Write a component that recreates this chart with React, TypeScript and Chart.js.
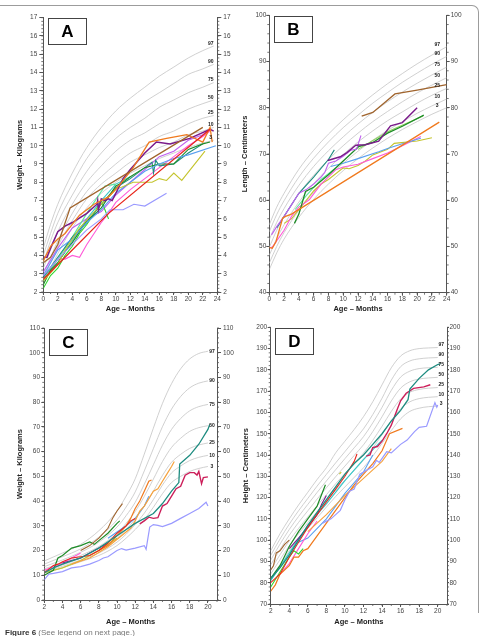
import React, { useEffect, useRef } from "react";
import { Chart, registerables } from "chart.js";

Chart.register(...registerables);

const FONT = "'Liberation Sans', Arial, Helvetica, sans-serif";
const PCT_NAMES = ["97", "90", "75", "50", "25", "10", "3"];

// ---------------- Panel A : weight, 0-24 months ----------------
const A_X_TICKS = [0, 2, 4, 6, 8, 10, 12, 14, 16, 18, 20, 22, 24];
const A_Y_TICKS = [2, 3, 4, 5, 6, 7, 8, 9, 10, 11, 12, 13, 14, 15, 16, 17];
const A_AGES = [0, 1, 2, 4, 6, 8, 10, 12, 14, 16, 18, 20, 22, 23.5];
const A_P97 = [4.4, 5.7, 6.8, 8.5, 9.9, 11.0, 11.9, 12.6, 13.2, 13.8, 14.3, 14.8, 15.2, 15.45];
const A_P90 = [4.0, 5.2, 6.3, 7.9, 9.3, 10.3, 11.1, 11.8, 12.4, 12.9, 13.4, 13.9, 14.2, 14.45];
const A_P75 = [3.6, 4.8, 5.8, 7.3, 8.6, 9.6, 10.4, 11.0, 11.5, 12.1, 12.5, 12.9, 13.2, 13.45];
const A_P50 = [3.3, 4.3, 5.3, 6.8, 8.0, 8.9, 9.7, 10.3, 10.7, 11.2, 11.6, 12.0, 12.3, 12.5];
const A_P25 = [2.9, 3.9, 4.8, 6.3, 7.5, 8.3, 9.0, 9.6, 10.0, 10.5, 10.8, 11.2, 11.5, 11.65];
const A_P10 = [2.7, 3.6, 4.5, 5.9, 7.1, 7.9, 8.5, 9.1, 9.5, 9.9, 10.2, 10.6, 10.8, 11.0];
const A_P3 = [2.4, 3.3, 4.1, 5.5, 6.6, 7.4, 8.0, 8.5, 8.9, 9.3, 9.6, 9.9, 10.15, 10.3];

const A_RED = [[0, 2.7], [9, 6.3], [23, 10.9]];
const A_BROWN = [[0, 3.6], [1, 3.9], [2, 4.6], [3.7, 6.6], [22, 11.0]];
const A_ORANGE = [[0, 3.7], [1, 4.5], [2, 4.9], [3, 5.2], [5, 6.2], [7, 6.8], [9, 7.2], [10.6, 7.9], [12.4, 8.8], [14.6, 10.2], [17, 10.4], [19.8, 10.6], [22, 10.2], [23, 11.0], [23.3, 10.2]];
const A_PURPLE = [[0, 3.9], [0.5, 3.9], [1, 4.4], [2, 5.3], [3, 5.6], [4, 5.8], [6, 6.3], [7.4, 6.8], [7.5, 7.0], [7.6, 6.5], [8, 7.1], [8.5, 7.0], [9, 7.1], [9.5, 7.0], [10, 7.4], [11, 8.2], [12, 8.7], [14, 9.6], [15.6, 10.2], [17.5, 10.1], [20.2, 10.4], [23, 10.9], [23.5, 10.8]];
const A_LAVENDER = [[0, 2.9], [2, 3.8], [4, 4.6], [6, 5.4], [8, 6.0], [9.2, 6.5], [11, 6.5], [12.5, 6.8], [14, 6.7], [17, 7.4]];
const A_OLIVE = [[0, 2.6], [2, 3.5], [3, 4.3], [5, 5.5], [8, 6.8], [10, 7.6], [12.4, 8.0], [14, 8.0], [15, 8.0], [16, 8.2], [17, 8.1], [18, 8.5], [19.1, 8.1], [22.3, 9.7]];
const A_BLUE = [[0, 2.9], [2, 4.3], [4, 4.9], [6, 5.8], [8, 6.5], [10, 7.4], [12, 8.0], [14, 8.6], [16, 9.0], [18, 9.3], [20, 9.5], [23.8, 10.0]];
const A_GREEN = [[0, 2.4], [1, 3.2], [2, 3.6], [3, 4.2], [4, 4.7], [5, 5.3], [6, 5.9], [7, 6.2], [8, 6.6], [9, 7.2], [10, 7.8], [11, 8.0], [12, 8.3], [14, 8.8], [16, 9.0], [18, 9.0], [20, 9.8], [22, 10.1], [23, 10.2]];
const A_TEAL = [[0, 2.8], [2, 3.9], [4, 5.0], [6, 5.8], [8, 6.8], [10, 7.7], [12, 8.2], [14, 8.8], [15, 9.1], [15.2, 8.5], [15.5, 9.2], [16, 8.9], [18, 9.0], [20, 9.6], [22, 10.1]];
const A_LIME = [[0, 2.2], [1, 2.9], [2, 3.3], [3, 4.0], [4, 4.5], [5, 5.2], [6, 5.7], [7, 6.3], [8, 7.0], [8.5, 6.5], [9, 6.0]];
const A_MINT = [[0, 2.7], [2, 3.8], [4, 5.0], [6, 6.3], [7.5, 7.2], [8.5, 7.8], [10, 7.9]];
const A_PINK = [[0, 2.9], [1, 3.2], [2, 3.8], [3, 3.8], [4, 4.0], [5, 3.9], [6, 4.6], [7, 5.2], [8, 5.8], [9, 6.3], [10, 6.9], [12, 7.6], [14, 8.2], [16, 8.8], [18, 9.4], [20, 10.0], [22, 10.5], [23, 10.8]];
const A_VIOLET = [[0, 3.1], [2, 4.4], [4, 5.5], [6, 6.0], [8, 6.4], [10, 7.3], [12, 8.0], [14, 8.7], [16, 9.4], [18, 9.7], [20, 10.3], [22, 10.6], [23, 10.9]];
const A_CYAN = [[0, 2.6], [2, 3.6], [4, 4.8], [6, 6.0], [8, 7.0], [10, 7.9], [12, 8.3]];

// ---------------- Panel B : length, 0-24 months ----------------
const B_X_TICKS = [0, 2, 4, 6, 8, 10, 12, 14, 16, 18, 20, 22, 24];
const B_Y_TICKS = [40, 50, 60, 70, 80, 90, 100];
const B_AGES = [0, 1, 2, 4, 6, 8, 10, 12, 14, 16, 18, 20, 22, 24];
const B_P97 = [54.7, 58.5, 61.5, 66.7, 70.8, 74.3, 77.4, 80.2, 82.8, 85.2, 87.4, 89.5, 91.4, 93.2];
const B_P90 = [53.2, 56.9, 59.9, 65.0, 69.1, 72.6, 75.7, 78.4, 81.0, 83.3, 85.5, 87.5, 89.4, 91.1];
const B_P75 = [51.5, 55.2, 58.2, 63.2, 67.3, 70.7, 73.7, 76.5, 79.0, 81.3, 83.4, 85.3, 87.1, 88.8];
const B_P50 = [49.8, 53.5, 56.5, 61.4, 65.4, 68.8, 71.8, 74.5, 77.0, 79.2, 81.3, 83.2, 84.9, 86.5];
const B_P25 = [48.1, 51.7, 54.7, 59.6, 63.6, 66.9, 69.9, 72.6, 75.0, 77.2, 79.1, 81.0, 82.7, 84.2];
const B_P10 = [46.4, 50.0, 53.0, 57.8, 61.7, 65.1, 68.0, 70.6, 73.0, 75.1, 77.0, 78.8, 80.4, 81.9];
const B_P3 = [45.0, 48.6, 51.6, 56.3, 60.2, 63.5, 66.4, 69.0, 71.3, 73.4, 75.3, 77.0, 78.6, 80.0];

const B_ORANGE = [[0, 49.8], [0.4, 49.6], [0.9, 51.0], [1.8, 56.1], [2.2, 56.5], [3, 57.0], [23, 76.9]];
const B_BROWN = [[12.5, 78.2], [14, 79.0], [15.5, 81.0], [17, 83.0], [20, 83.8], [24, 85.0]];
const B_PURPLE = [[7.9, 68.6], [9.6, 69.4], [10.5, 70.3], [11.7, 71.9], [13, 72.0], [14.8, 72.8], [16.4, 76.1], [18, 76.8], [20, 80.0]];
const B_VIOLET = [[0.3, 52.5], [1, 54.3], [2, 56.5], [3, 59.0], [4, 61.5], [5, 62.3], [6, 63.5], [7, 65.0], [7.5, 66.0], [8, 68.0], [9, 68.5], [10, 69.5], [11, 70.8], [11.8, 71.0], [12.4, 74.0]];
const B_GREEN = [[3.4, 55.0], [4, 57.0], [4.9, 61.9], [6, 62.8], [8, 65.5], [10, 68.5], [12.1, 71.6], [14, 72.5], [16, 74.5], [18, 76.0], [20.9, 78.4]];
const B_TEAL = [[1, 54.0], [2, 56.5], [4, 61.5], [6, 65.0], [8, 68.8], [8.8, 70.9]];
const B_LIGHTGREEN = [[12, 71.0], [16, 74.8], [20.8, 78.2]];
const B_BLUE = [[8.3, 67.3], [10, 68.0], [12, 69.0], [14.8, 70.5], [16, 71.2], [18, 72.2], [20.5, 73.4]];
const B_PINK = [[0.2, 49.6], [0.6, 50.3], [2, 53.5], [3, 56.5], [4, 58.5], [5.4, 60.1], [7, 63.5], [9, 66.6], [10, 67.2], [12, 67.8], [14, 69.0], [16, 70.2], [18, 71.8], [20.5, 73.8]];
const B_OLIVE = [[2, 55.0], [3, 56.0], [4, 58.0], [5, 60.0], [6, 62.0], [7, 63.5], [8, 64.5], [10, 67.0], [10.8, 66.8], [12, 67.5], [13, 68.5], [14, 69.8], [16, 71.0], [16.9, 72.3], [20, 72.8], [22, 73.5]];
const B_MINT = [[3.5, 58.0], [5, 61.0], [7, 64.5], [9, 67.0]];

// ---------------- Panel C : weight, 2-20 ----------------
const C_X_TICKS = [2, 4, 6, 8, 10, 12, 14, 16, 18, 20];
const C_Y_TICKS = [0, 10, 20, 30, 40, 50, 60, 70, 80, 90, 100, 110];
const C_AGES = [2, 4, 6, 8, 10, 11, 12, 13, 14, 15, 16, 17, 18, 19, 20];
const C_P97 = [15.8, 19.0, 22.5, 28.0, 36.0, 42.0, 49.0, 59.0, 69.5, 79.5, 87.5, 93.5, 97.5, 99.7, 100.6];
const C_P90 = [14.5, 17.5, 20.7, 25.4, 32.4, 37.6, 43.7, 52.2, 61.2, 70.1, 77.2, 82.3, 85.8, 87.7, 88.6];
const C_P75 = [13.5, 16.2, 19.3, 23.4, 29.5, 34.1, 39.5, 46.8, 54.7, 62.6, 69.0, 73.4, 76.5, 78.2, 79.1];
const C_P50 = [12.6, 15.1, 18.0, 21.6, 27.0, 31.0, 35.8, 41.9, 48.9, 56.0, 61.7, 65.4, 68.2, 69.7, 70.5];
const C_P25 = [11.8, 14.2, 16.9, 20.0, 24.9, 28.5, 32.7, 37.9, 44.0, 50.4, 55.7, 58.9, 61.3, 62.7, 63.5];
const C_P10 = [11.3, 13.6, 16.2, 19.0, 23.4, 26.6, 30.5, 35.1, 40.6, 46.5, 51.4, 54.2, 56.4, 57.7, 58.5];
const C_P3 = [10.8, 13.0, 15.5, 18.0, 22.0, 25.0, 28.5, 32.5, 37.5, 43.0, 47.5, 50.0, 52.0, 53.2, 54.0];

const C_LAVENDER = [[2, 8.2], [2.5, 10.5], [3, 10.8], [4, 11.5], [5, 13.0], [6, 13.5], [7, 14.5], [8, 16.0], [8.5, 17.0], [9, 17.5], [10, 20.0], [10.5, 20.8], [11, 20.2], [12, 21.0], [13, 22.0], [13.2, 20.5], [13.4, 25.0], [13.6, 29.5], [14, 30.5], [14.5, 30.2], [15, 29.7], [16, 31.0], [17, 33.0], [18, 35.0], [19, 37.0], [19.8, 39.5], [20, 38.0]];
const C_TEAL = [[2, 11.0], [3, 13.0], [4, 14.5], [6, 17.0], [8, 21.0], [10, 26.0], [12, 31.0], [14, 35.0], [15, 39.0], [16, 44.0], [16.8, 47.5], [16.9, 55.0], [18, 58.5], [19, 63.0], [20, 69.0], [20.2, 71.0]];
const C_CRIMSON = [[12.5, 30.8], [13, 32.0], [13.5, 33.5], [14, 33.0], [14.5, 33.3], [15, 38.0], [15.5, 39.0], [16, 42.0], [16.5, 45.0], [17, 46.0], [17.5, 50.5], [18, 51.5], [18.5, 51.5], [18.8, 50.5], [19, 52.0], [19.3, 47.0], [19.5, 49.5], [20, 49.8]];
const C_RED = [[2, 11.0], [2.5, 12.5], [3, 14.0], [3.5, 14.5], [4, 15.5], [5, 17.0], [6, 17.5], [7, 18.0], [8, 20.0], [9, 23.0], [10, 27.0], [11, 30.0], [11.5, 32.0], [12, 33.0]];
const C_ORANGE = [[8, 20.0], [9, 22.0], [10, 26.0], [11, 30.0], [11.5, 33.0], [12, 37.0], [12.5, 40.0], [13, 44.0], [13.5, 48.0], [13.8, 48.5]];
const C_LIGHTORANGE = [[5, 14.5], [7, 17.0], [9, 21.5], [11.5, 29.0], [12, 32.0], [12.5, 36.0], [13, 38.0], [13.5, 41.0], [14, 44.0], [14.5, 45.0], [15, 48.0], [15.5, 51.0], [16, 54.0], [16.3, 56.0]];
const C_BROWN = [[6, 20.0], [7, 22.0], [8, 25.0], [9, 29.0], [9.5, 33.0], [10, 36.0], [10.6, 39.0]];
const C_GREEN = [[2, 10.0], [3, 12.0], [3.5, 17.0], [4, 18.0], [5, 21.0], [6, 22.0], [7, 23.5], [7.5, 22.5], [8, 24.0], [9, 27.0], [10, 31.0], [10.3, 32.0]];
const C_BLUE = [[9, 25.0], [11, 30.0], [12, 33.0], [13, 38.0], [13.5, 42.0]];
const C_PURPLE = [[4, 15.0], [5, 16.0], [6, 17.0], [7, 19.0], [8, 21.0], [9, 23.0]];
const C_OLIVE = [[2, 11.0], [4, 13.0], [6, 16.0], [8, 20.0], [10, 25.0]];
const C_PINK = [[2, 12.0], [4, 15.0], [5, 17.0], [6, 19.0]];

// ---------------- Panel D : height, 2-20 ----------------
const D_X_TICKS = [2, 4, 6, 8, 10, 12, 14, 16, 18, 20];
const D_Y_TICKS = [70, 80, 90, 100, 110, 120, 130, 140, 150, 160, 170, 180, 190, 200];
const D_AGES = [2, 3, 4, 5, 6, 7, 8, 9, 10, 11, 12, 13, 14, 15, 16, 17, 18, 19, 20];
const D_P97 = [95, 103, 110, 116.5, 122.5, 128.5, 134, 141, 146.5, 152, 158, 165, 173, 181, 186.5, 189, 190, 190.3, 190.5];
const D_P90 = [92.8, 100.5, 107.5, 113.8, 119.6, 125.4, 130.9, 136.3, 141.6, 146.9, 152.3, 159.0, 166.7, 175.2, 181.5, 184.2, 185.2, 185.6, 185.8];
const D_P75 = [90.6, 98.1, 105.0, 111.1, 116.8, 122.4, 127.8, 133.1, 138.3, 143.4, 148.6, 155.1, 162.4, 170.4, 176.6, 179.4, 180.6, 181.0, 181.2];
const D_P50 = [88.4, 95.6, 102.3, 108.3, 113.8, 119.3, 124.6, 129.8, 134.8, 139.8, 144.8, 151.0, 158.0, 165.4, 171.4, 174.4, 175.7, 176.2, 176.5];
const D_P25 = [86.1, 93.1, 99.7, 105.5, 110.9, 116.2, 121.3, 126.5, 131.3, 136.1, 140.9, 146.9, 153.5, 160.5, 166.3, 169.5, 170.8, 171.4, 171.7];
const D_P10 = [84.1, 90.8, 97.4, 103.0, 108.2, 113.4, 118.4, 123.5, 128.2, 132.8, 137.5, 143.2, 149.6, 156.0, 161.7, 165.0, 166.5, 167.1, 167.4];
const D_P3 = [82, 88.5, 95, 100.5, 105.5, 110.5, 115.5, 120.5, 125, 129.5, 134, 139.5, 145.5, 151.5, 157, 160.5, 162, 162.7, 163];

const D_LAVENDER = [[7.6, 108], [8.5, 110], [9.5, 114], [10, 119], [10.5, 123], [11, 124], [11.6, 131], [12, 132], [13, 134.5], [13.4, 137.5], [13.7, 136.5], [14.1, 139], [14.5, 141.6], [15, 141], [16, 145], [16.7, 147], [17.5, 151], [18, 153], [18.8, 153.5], [19.7, 164.6], [19.9, 162.5], [20, 163.5]];
const D_TEAL = [[2, 82], [3, 87], [4, 93], [5, 100], [6, 107], [7, 113], [8, 119], [9, 125], [10, 131], [11, 136], [12, 140], [13, 145], [14, 150], [15, 156], [16, 161], [16.8, 166], [17, 171], [18, 176], [19, 180], [20, 182.5], [20.3, 183]];
const D_CRIMSON = [[12.3, 139.5], [12.7, 140], [13, 143.5], [13.5, 144], [14, 146.5], [14.5, 150], [15, 154], [15.6, 161], [16, 165.5], [16.6, 169], [17.4, 171.3], [18.5, 172], [19.2, 173]];
const D_RED = [[2, 80], [3, 84], [4, 92], [5, 99], [6, 106], [7, 112], [8, 118], [9, 124], [10, 130], [11, 137], [11.3, 140.5]];
const D_ORANGE = [[2, 76], [2.5, 79], [3, 84], [4, 88], [4.5, 92], [5, 92], [5.5, 95], [6, 96], [7, 102], [8, 108], [9, 114], [10, 120], [11, 126], [12, 131], [13, 136], [14, 142], [14.8, 150], [16.2, 152.5]];
const D_LIME = [[2, 78], [3, 85], [4, 92], [4.5, 95], [5, 93.5], [5.5, 96]];
const D_GREEN = [[2, 82], [3, 88], [4, 97], [5, 104], [6, 110], [7, 116], [7.9, 126]];
const D_OLIVE = [[9.4, 131], [9.6, 132]];
const D_BROWN = [[2, 86], [2.3, 88], [2.6, 94], [3, 95], [3.5, 98], [4, 100]];
const D_PURPLE = [[4, 96], [5, 101], [6, 106], [7, 112], [7.5, 117], [8, 121]];
const D_DARKCYAN = [[2, 81], [4, 94], [6, 107], [8, 117], [10, 128], [12, 138], [14, 147]];
const D_LIGHTORANGE = [[6, 104], [8, 112], [10, 121], [12, 129], [14, 137], [15, 143]];
const D_PINK = [[3, 84], [4, 89], [5, 96], [6, 103], [7, 109]];
const D_BLUE = [[5, 99], [6, 101], [8, 110], [10, 122], [12, 132], [13, 140]];

// ---------------- colours ----------------
const COL = {
  red: "#e8261c",
  brown: "#a0642d",
  orange: "#f07a1e",
  lightOrange: "#f6a23c",
  purple: "#7a1a8a",
  lavender: "#9a9aff",
  olive: "#c4c42e",
  blue: "#5aa0f0",
  green: "#1e8c28",
  teal: "#1e8c80",
  lime: "#30d830",
  mint: "#5ee6a0",
  pink: "#ff5ad8",
  violet: "#c060f0",
  cyan: "#38c8c8",
  crimson: "#cc1f5a",
  lightGreen: "#8cd25a",
};

type Series = { data: number[][]; color: string; width?: number };
type Spec = {
  letter: string; left: number; top: number; w: number; h: number;
  padTop: number; yW: number; y2W: number; xH: number;
  xMin: number; xMax: number; yMin: number; yMax: number;
  xTicks: number[]; yTicks: number[]; xMinor: number; yMinor: number;
  yTitle: string; xTitlePad: number; yTitlePad: number;
  xTL: number; xPad: number; yTL: number; yPad: number; y2TL: number; y2Pad: number;
  ages: number[]; pcts: number[][]; series: Series[]; labDx: number; labDy: number;
};

const SPECS: Spec[] = [
  {
    letter: "A", left: 0, top: 0, w: 240, h: 318,
    padTop: 17.7, yW: 43.3, y2W: 22.7, xH: 26,
    xMin: 0, xMax: 24, yMin: 2, yMax: 17,
    xTicks: A_X_TICKS, yTicks: A_Y_TICKS, xMinor: 1, yMinor: 0.2,
    yTitle: "Weight – Kilograms", xTitlePad: 4.5, yTitlePad: 15.5,
    xTL: 3, xPad: 0, yTL: 4, yPad: 2, y2TL: 4, y2Pad: 2,
    ages: A_AGES, pcts: [A_P97, A_P90, A_P75, A_P50, A_P25, A_P10, A_P3],
    series: [
      { data: A_RED, color: COL.red, width: 1.3 },
      { data: A_BROWN, color: COL.brown, width: 1.3 },
      { data: A_ORANGE, color: COL.orange, width: 1.3 },
      { data: A_PURPLE, color: COL.purple, width: 1.5 },
      { data: A_LAVENDER, color: COL.lavender },
      { data: A_OLIVE, color: COL.olive },
      { data: A_BLUE, color: COL.blue },
      { data: A_GREEN, color: COL.green },
      { data: A_TEAL, color: COL.teal },
      { data: A_LIME, color: COL.lime },
      { data: A_MINT, color: COL.mint },
      { data: A_PINK, color: COL.pink },
      { data: A_VIOLET, color: COL.violet },
      { data: A_CYAN, color: COL.cyan },
    ],
    labDx: -3, labDy: -2.5,
  },
  {
    letter: "B", left: 240, top: 0, w: 241, h: 318,
    padTop: 15.3, yW: 29.3, y2W: 34.3, xH: 25.3,
    xMin: 0, xMax: 24, yMin: 40, yMax: 100,
    xTicks: B_X_TICKS, yTicks: B_Y_TICKS, xMinor: 1, yMinor: 2,
    yTitle: "Length – Centimeters", xTitlePad: 4.5, yTitlePad: 0.8,
    xTL: 3, xPad: 0, yTL: 3, yPad: 0, y2TL: 3, y2Pad: 1,
    ages: B_AGES, pcts: [B_P97, B_P90, B_P75, B_P50, B_P25, B_P10, B_P3],
    series: [
      { data: B_ORANGE, color: COL.orange, width: 1.3 },
      { data: B_BROWN, color: COL.brown, width: 1.3 },
      { data: B_PURPLE, color: COL.purple, width: 1.4 },
      { data: B_VIOLET, color: COL.violet },
      { data: B_GREEN, color: COL.green, width: 1.3 },
      { data: B_TEAL, color: COL.teal },
      { data: B_LIGHTGREEN, color: COL.lightGreen },
      { data: B_BLUE, color: COL.blue },
      { data: B_PINK, color: COL.pink },
      { data: B_OLIVE, color: COL.olive },
      { data: B_MINT, color: COL.mint },
    ],
    labDx: -9.5, labDy: -2.5,
  },
  {
    letter: "C", left: 0, top: 318, w: 240, h: 318,
    padTop: 10, yW: 44.3, y2W: 23, xH: 36,
    xMin: 2, xMax: 21, yMin: 0, yMax: 110,
    xTicks: C_X_TICKS, yTicks: C_Y_TICKS, xMinor: 1, yMinor: 2,
    yTitle: "Weight – Kilograms", xTitlePad: 9.8, yTitlePad: 15.5,
    xTL: 3, xPad: 0, yTL: 3, yPad: 1.3, y2TL: 4, y2Pad: 2,
    ages: C_AGES, pcts: [C_P97, C_P90, C_P75, C_P50, C_P25, C_P10, C_P3],
    series: [
      { data: C_LAVENDER, color: COL.lavender, width: 1.2 },
      { data: C_TEAL, color: COL.teal, width: 1.3 },
      { data: C_CRIMSON, color: COL.crimson, width: 1.4 },
      { data: C_RED, color: COL.red },
      { data: C_ORANGE, color: COL.orange, width: 1.2 },
      { data: C_LIGHTORANGE, color: COL.lightOrange, width: 1.2 },
      { data: C_BROWN, color: COL.brown },
      { data: C_GREEN, color: COL.green, width: 1.2 },
      { data: C_BLUE, color: COL.blue },
      { data: C_PURPLE, color: COL.purple },
      { data: C_OLIVE, color: COL.olive },
      { data: C_PINK, color: COL.pink },
    ],
    labDx: 4, labDy: 0,
  },
  {
    letter: "D", left: 240, top: 318, w: 241, h: 318,
    padTop: 9.3, yW: 30.7, y2W: 34, xH: 32,
    xMin: 2, xMax: 21, yMin: 70, yMax: 200,
    xTicks: D_X_TICKS, yTicks: D_Y_TICKS, xMinor: 1, yMinor: 2,
    yTitle: "Height – Centimeters", xTitlePad: 9.8, yTitlePad: 1.2,
    xTL: 3, xPad: 0, yTL: 3, yPad: 0.5, y2TL: 2, y2Pad: 0.5,
    ages: D_AGES, pcts: [D_P97, D_P90, D_P75, D_P50, D_P25, D_P10, D_P3],
    series: [
      { data: D_LAVENDER, color: COL.lavender, width: 1.2 },
      { data: D_TEAL, color: COL.teal, width: 1.3 },
      { data: D_CRIMSON, color: COL.crimson, width: 1.4 },
      { data: D_RED, color: COL.red },
      { data: D_ORANGE, color: COL.orange, width: 1.2 },
      { data: D_LIME, color: COL.lime },
      { data: D_GREEN, color: COL.green, width: 1.2 },
      { data: D_OLIVE, color: COL.olive },
      { data: D_BROWN, color: COL.brown },
      { data: D_PURPLE, color: COL.purple },
      { data: D_DARKCYAN, color: COL.cyan },
      { data: D_LIGHTORANGE, color: COL.lightOrange },
      { data: D_PINK, color: COL.pink },
      { data: D_BLUE, color: COL.blue },
    ],
    labDx: 3.5, labDy: -2.5,
  },
];

// ---------------- plugins ----------------
const minorTicksPlugin = {
  id: "minorTicks",
  afterDraw(chart: any, _args: any, o: any) {
    const { ctx, chartArea: ca } = chart;
    const sx = chart.scales.x;
    const sy = chart.scales.y;
    ctx.save();
    ctx.strokeStyle = "#555";
    ctx.lineWidth = 0.8;
    ctx.beginPath();
    const nx = Math.round((sx.max - sx.min) / o.xStep);
    for (let i = 0; i <= nx; i++) {
      const p = sx.getPixelForValue(sx.min + i * o.xStep);
      ctx.moveTo(p, ca.bottom);
      ctx.lineTo(p, ca.bottom + o.len);
    }
    const ny = Math.round((sy.max - sy.min) / o.yStep);
    for (let i = 0; i <= ny; i++) {
      const p = sy.getPixelForValue(sy.min + i * o.yStep);
      ctx.moveTo(ca.left, p);
      ctx.lineTo(ca.left - o.len, p);
      ctx.moveTo(ca.right, p);
      ctx.lineTo(ca.right + o.len, p);
    }
    ctx.stroke();
    ctx.restore();
  },
};

const pctLabelPlugin = {
  id: "pctLabels",
  afterDatasetsDraw(chart: any, _args: any, o: any) {
    const { ctx } = chart;
    ctx.save();
    ctx.font = "bold 5px " + FONT;
    ctx.fillStyle = "#222";
    ctx.textAlign = "center";
    ctx.textBaseline = "middle";
    chart.data.datasets.forEach((ds: any, i: number) => {
      if (!ds.pctLabel) return;
      const meta = chart.getDatasetMeta(i);
      const last = meta.data[meta.data.length - 1];
      if (!last) return;
      ctx.fillText(ds.pctLabel, last.x + o.dx, last.y + o.dy);
    });
    ctx.restore();
  },
};

const letterBoxPlugin = {
  id: "letterBox",
  afterDraw(chart: any, _args: any, o: any) {
    const { ctx, chartArea: ca } = chart;
    const x = Math.round(ca.left + 4.5) + 0.5;
    const y = Math.round(ca.top + 0.5) + 0.5;
    ctx.save();
    ctx.fillStyle = "#fff";
    ctx.fillRect(x, y, 38, 26);
    ctx.strokeStyle = "#444";
    ctx.lineWidth = 1;
    ctx.strokeRect(x, y, 38, 26);
    ctx.fillStyle = "#000";
    ctx.font = "bold 17px " + FONT;
    ctx.textAlign = "center";
    ctx.textBaseline = "middle";
    ctx.fillText(o.letter, x + 19, y + 14);
    ctx.restore();
  },
};

function makeConfig(s: Spec): any {
  const pctSets = s.pcts.map((vals, i) => ({
    label: "P" + PCT_NAMES[i],
    pctLabel: PCT_NAMES[i],
    data: s.ages.map((a, j) => ({ x: a, y: vals[j] })),
    borderColor: "#c4c4c4",
    borderWidth: 0.8,
    pointRadius: 0,
    fill: false,
    cubicInterpolationMode: "monotone",
    order: 10,
  }));
  const childSets = s.series.map((c, i) => ({
    label: "child" + i,
    data: c.data.map((p) => ({ x: p[0], y: p[1] })),
    borderColor: c.color,
    borderWidth: c.width ?? 1.1,
    pointRadius: 0,
    fill: false,
    tension: 0,
    order: 1,
  }));
  const tickFont = { family: FONT, size: 6.5 };
  const titleFont = { family: FONT, size: 7.5, weight: "bold" };
  const axisColor = "#555";
  const fixTicks = (vals: number[]) => (scale: any) => {
    scale.ticks = vals.map((v) => ({ value: v }));
  };
  const yCommon = (tl: number, pad: number) => ({
    type: "linear",
    min: s.yMin,
    max: s.yMax,
    afterBuildTicks: fixTicks(s.yTicks),
    ticks: { font: tickFont, color: "#444", padding: pad, autoSkip: false },
    grid: { display: true, drawOnChartArea: false, drawTicks: true, tickLength: tl, color: axisColor, lineWidth: 1 },
    border: { display: true, color: axisColor, width: 1 },
  });
  return {
    type: "line",
    data: { datasets: [...childSets, ...pctSets] },
    options: {
      responsive: false,
      animation: false,
      events: [],
      layout: { padding: { top: s.padTop, left: 0, right: 0, bottom: 0 } },
      plugins: {
        legend: { display: false },
        tooltip: { enabled: false },
        minorTicks: { xStep: s.xMinor, yStep: s.yMinor, len: 2 },
        pctLabels: { dx: s.labDx, dy: s.labDy },
        letterBox: { letter: s.letter },
      },
      scales: {
        x: {
          type: "linear",
          position: "bottom",
          min: s.xMin,
          max: s.xMax,
          afterBuildTicks: fixTicks(s.xTicks),
          afterFit: (sc: any) => { sc.height = s.xH; },
          ticks: { font: tickFont, color: "#444", padding: s.xPad, maxRotation: 0, autoSkip: false },
          grid: { display: true, drawOnChartArea: false, drawTicks: true, tickLength: s.xTL, color: axisColor, lineWidth: 1 },
          border: { display: true, color: axisColor, width: 1 },
          title: { display: true, text: "Age – Months", font: titleFont, color: "#222", padding: { top: 0, bottom: s.xTitlePad } },
        },
        y: {
          ...yCommon(s.yTL, s.yPad),
          position: "left",
          afterFit: (sc: any) => { sc.width = s.yW; },
          title: { display: true, text: s.yTitle, font: titleFont, color: "#222", padding: { top: s.yTitlePad, bottom: 0 } },
        },
        y2: {
          ...yCommon(s.y2TL, s.y2Pad),
          display: true,
          position: "right",
          afterFit: (sc: any) => { sc.width = s.y2W; },
        },
      },
    },
    plugins: [minorTicksPlugin, pctLabelPlugin, letterBoxPlugin],
  };
}

function Panel({ spec }: { spec: Spec }) {
  const ref = useRef<HTMLCanvasElement>(null);
  useEffect(() => {
    if (!ref.current) return;
    const chart = new Chart(ref.current, makeConfig(spec));
    return () => chart.destroy();
  }, [spec]);
  return (
    <canvas
      ref={ref}
      width={spec.w}
      height={spec.h}
      style={{ position: "absolute", left: spec.left, top: spec.top, width: spec.w, height: spec.h }}
    />
  );
}

export default function App() {
  return (
    <div style={{ position: "fixed", left: 0, top: 0, width: 481, height: 636, background: "#fff", overflow: "hidden" }}>
      <div
        style={{
          position: "absolute", left: -3, top: 5, width: 482, height: 608,
          borderTop: "1.5px solid #9c9c9c", borderRight: "1.5px solid #9c9c9c",
          borderTopRightRadius: 7, boxSizing: "border-box",
        }}
      />
      {SPECS.map((s) => (
        <Panel key={s.letter} spec={s} />
      ))}
      <div
        style={{
          position: "absolute", left: 5, top: 628, fontFamily: FONT, fontSize: 8,
          color: "#777", whiteSpace: "nowrap", lineHeight: "10px",
        }}
      >
        <span style={{ fontWeight: "bold", color: "#333" }}>Figure 6</span> (See legend on next page.)
      </div>
    </div>
  );
}
